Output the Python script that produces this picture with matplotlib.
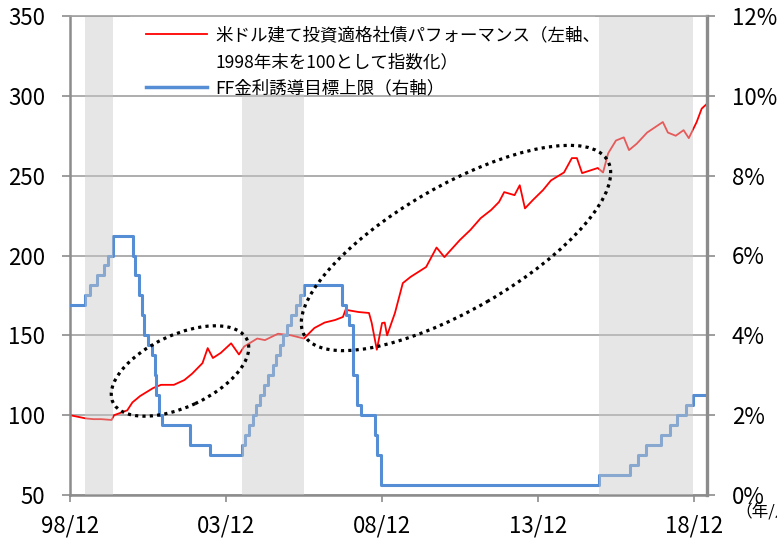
import matplotlib
matplotlib.use('Agg')
import matplotlib.pyplot as plt
from matplotlib.lines import Line2D
from matplotlib.patches import Ellipse, Rectangle
from matplotlib.ticker import FuncFormatter
import pandas as pd

plt.rcParams['font.family'] = ['Noto Sans CJK JP', 'DejaVu Sans']

# US$ investment grade corporate bond index (1998 end = 100)
bond_months = ['1998-12', '1999-03', '1999-06', '1999-09', '1999-12', '2000-04', '2000-05',
               '2000-10', '2000-12', '2001-03', '2001-08', '2001-11', '2002-04', '2002-08', '2002-11',
               '2003-03', '2003-05', '2003-07', '2003-10', '2004-02', '2004-05', '2004-07',
               '2004-12', '2005-03', '2005-08', '2006-01', '2006-06', '2006-10', '2007-02', '2007-06',
               '2007-09', '2007-10', '2008-03', '2008-07', '2008-08', '2008-10', '2008-12',
               '2009-01', '2009-02', '2009-05', '2009-08', '2009-11', '2010-05', '2010-09',
               '2010-12', '2011-06', '2011-10', '2012-02', '2012-06', '2012-09', '2012-11',
               '2013-03', '2013-05', '2013-07', '2013-10', '2014-02', '2014-05', '2014-10',
               '2015-01', '2015-03', '2015-05', '2015-11', '2016-01', '2016-03', '2016-06',
               '2016-09', '2016-11', '2017-02', '2017-06', '2017-12', '2018-02', '2018-05',
               '2018-08', '2018-10', '2019-01', '2019-03', '2019-05']
bond_values = [100.0, 99.0, 98.0, 97.5, 97.5, 97.0, 100.0,
               103.0, 108.0, 112.0, 117.0, 119.0, 119.0, 122.0, 126.0,
               132.6, 142.0, 135.8, 139.0, 145.0, 138.0, 143.0,
               148.0, 147.0, 151.0, 150.0, 148.0, 154.6, 158.0, 159.6,
               161.5, 166.0, 164.6, 164.0, 158.0, 141.0, 157.7,
               158.0, 150.0, 164.0, 182.7, 186.6, 192.8, 205.0,
               199.0, 209.7, 216.0, 223.4, 228.5, 233.5, 239.7,
               237.8, 244.0, 229.5, 234.7, 241.0, 247.0, 252.0,
               261.0, 261.0, 251.6, 254.8, 252.0, 264.0, 272.0,
               274.0, 266.0, 270.0, 277.0, 283.6, 277.0, 275.0,
               278.5, 273.5, 283.6, 292.0, 295.0]

# FF rate target upper bound (%), right axis
ff_dates = ['1998-12-31', '1999-06-30', '1999-08-24', '1999-11-16', '2000-02-02', '2000-03-21',
            '2000-05-16', '2001-01-03', '2001-01-31', '2001-03-20', '2001-04-18', '2001-05-15',
            '2001-06-27', '2001-08-21', '2001-09-17', '2001-10-02', '2001-11-06', '2001-12-11',
            '2002-11-06', '2003-06-25', '2004-06-30', '2004-08-10', '2004-09-21', '2004-11-10',
            '2004-12-14', '2005-02-02', '2005-03-22', '2005-05-03', '2005-06-30', '2005-08-09',
            '2005-09-20', '2005-11-01', '2005-12-13', '2006-01-31', '2006-03-28', '2006-05-10',
            '2006-06-29', '2007-09-18', '2007-10-31', '2007-12-11', '2008-01-22', '2008-01-30',
            '2008-03-18', '2008-04-30', '2008-10-08', '2008-10-29', '2008-12-16', '2015-12-16',
            '2016-12-14', '2017-03-15', '2017-06-14', '2017-12-13', '2018-03-21', '2018-06-13',
            '2018-09-26', '2018-12-19', '2019-05-31']
ff_rates = [4.75, 5.00, 5.25, 5.50, 5.75, 6.00,
            6.50, 6.00, 5.50, 5.00, 4.50, 4.00,
            3.75, 3.50, 3.00, 2.50, 2.00, 1.75,
            1.25, 1.00, 1.25, 1.50, 1.75, 2.00,
            2.25, 2.50, 2.75, 3.00, 3.25, 3.50,
            3.75, 4.00, 4.25, 4.50, 4.75, 5.00,
            5.25, 4.75, 4.50, 4.25, 3.50, 3.00,
            2.25, 2.00, 1.50, 1.00, 0.25, 0.50,
            0.75, 1.00, 1.25, 1.50, 1.75, 2.00,
            2.25, 2.50, 2.50]

# rate hike periods (shaded)
hike_starts = ['1999-06-30', '2004-06-30', '2015-12-16']
hike_ends = ['2000-05-16', '2006-06-29', '2018-12-19']

tick_dates = ['1998-12-31', '2003-12-31', '2008-12-31', '2013-12-31', '2018-12-31']
tick_labels = ['98/12', '03/12', '08/12', '13/12', '18/12']

label_bond_1 = '米ドル建て投資適格社債パフォーマンス（左軸、'
label_bond_2 = '1998年末を100として指数化）'
label_ff = 'FF金利誘導目標上限（右軸）'

bond_x = pd.to_datetime(bond_months) + pd.offsets.MonthEnd(0)
ff_x = pd.to_datetime(ff_dates)

gray = '#8c8c8c'
grid_gray = '#a0a0a0'
red = '#ff0000'
blue = '#558ed5'

fig = plt.figure(figsize=(7.77, 5.39), dpi=100)
ax = fig.add_axes([70 / 777, 1 - 495 / 539, 637 / 777, 479 / 539])
ax2 = ax.twinx()

ax.plot(bond_x, bond_values, color=red, lw=1.3, zorder=2)
ax2.plot(ff_x, ff_rates, color=blue, lw=2.2, drawstyle='steps-post', zorder=2)

for s, e in zip(hike_starts, hike_ends):
    ax2.axvspan(pd.Timestamp(s), pd.Timestamp(e), color='#c8c8c8', alpha=0.45,
                lw=0, zorder=3)

ax.set_xlim(pd.Timestamp('1998-12-31'), pd.Timestamp('2019-06-01'))
ax.set_ylim(50, 350)
ax.set_yticks(range(50, 351, 50))
ax2.set_ylim(0, 12)
ax2.set_yticks(range(0, 13, 2))
ax2.yaxis.set_major_formatter(FuncFormatter(lambda v, p: f'{v:.0f}%'))
ax.set_xticks(pd.to_datetime(tick_dates))
ax.set_xticklabels(tick_labels)

ax.grid(axis='y', color=grid_gray, lw=1.2)
ax.set_axisbelow(True)

for a in (ax, ax2):
    for sp in a.spines.values():
        sp.set_color(gray)
    a.spines['top'].set_visible(False)
ax.spines['left'].set_linewidth(1.8)
ax.spines['bottom'].set_linewidth(1.8)
ax2.spines['right'].set_linewidth(2.4)
ax2.spines['left'].set_visible(False)
ax2.spines['bottom'].set_visible(False)
# top line at 350 stays visible above the legend box
ax2.spines['top'].set_visible(True)
ax2.spines['top'].set_color(grid_gray)
ax2.spines['top'].set_linewidth(1.2)
ax2.spines['top'].set_zorder(11)

ax.tick_params(axis='y', length=6, width=1.2, color=gray, pad=12, labelsize=16)
ax.tick_params(axis='x', length=5, width=1.2, color=gray, pad=9, labelsize=16)
ax2.tick_params(axis='y', length=6, width=1.2, color=gray, pad=12, labelsize=16)

# white legend area hiding the shading above the 300 line
ax2.add_patch(Rectangle((0.094, 0.837), 0.73, 0.163, transform=ax2.transAxes,
                        facecolor='white', edgecolor='none', zorder=4))

handles = [Line2D([], [], color=red, lw=1.3),
           Line2D([], [], color='none', lw=0),
           Line2D([], [], color=blue, lw=2.5)]
leg = ax2.legend(handles, [label_bond_1, label_bond_2, label_ff], loc='upper left',
                 bbox_to_anchor=(0.109, 0.9916), borderaxespad=0, fontsize=12.6,
                 frameon=False, handlelength=3.5, handletextpad=0.45,
                 labelspacing=0.48, borderpad=0.37)
leg.set_zorder(10)

# dotted ellipses (figure pixels: cx, cy, semi-major, semi-minor, angle)
for cx, cy, a, b, ang in [(180, 371, 74, 36, 25), (456, 248, 175, 62, 30)]:
    fig.add_artist(Ellipse((cx / 100, (539 - cy) / 100), 2 * a / 100, 2 * b / 100,
                           angle=ang, transform=fig.dpi_scale_trans, fill=False,
                           ec='black', lw=2.3, ls=(0, (1, 1.3)), zorder=5))

fig.text(735 / 777, 1 - 512 / 539, '（年/月）', fontsize=12, va='center', ha='left')

fig.savefig('out.png', dpi=100)
